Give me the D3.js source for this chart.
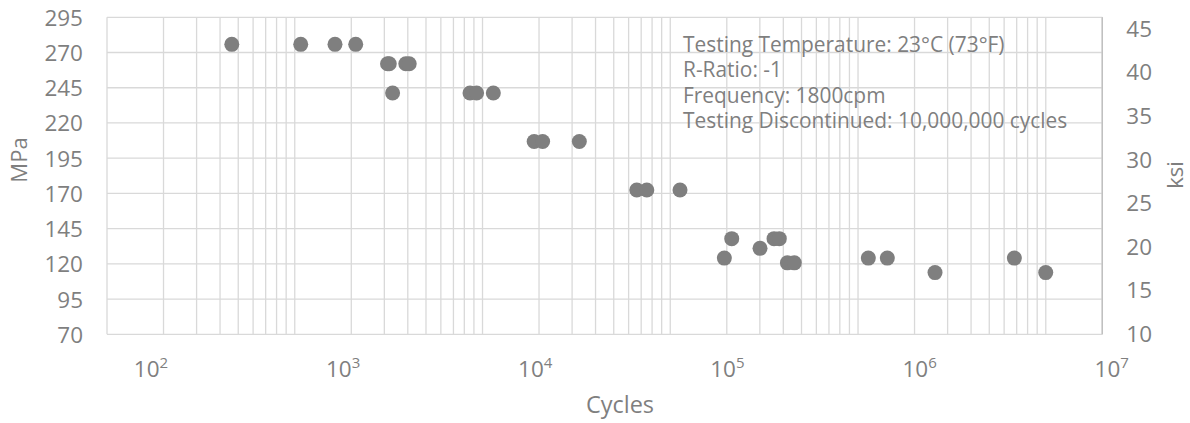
<!DOCTYPE html>
<html>
<head>
<meta charset="utf-8">
<script src="https://cdn.jsdelivr.net/npm/d3@7"></script>
<style>
  html, body { margin: 0; padding: 0; background: #fff; }
  svg { display: block; font-family: "Open Sans", "Noto Sans", sans-serif; }
</style>
</head>
<body>
<svg id="chart" width="1190" height="423"></svg>
<script>
// ---- data ----
const cycles = [231, 538, 819, 1056, 1560, 1593, 1952, 2035, 1660, 4290, 4650, 5710,
  9420, 10450, 16390, 33160, 37500, 56350, 97050, 106250, 150300, 178500, 190450,
  210300, 228900, 567350, 716150, 1285500, 3401000, 4996500];
const stressMPa = [275.8, 275.8, 275.8, 275.8, 262.0, 262.0, 262.0, 262.0, 241.3, 241.3, 241.3, 241.3,
  206.8, 206.8, 206.8, 172.4, 172.4, 172.4, 124.1, 137.9, 131.0, 137.9, 137.9,
  120.7, 120.7, 124.1, 124.1, 113.8, 124.1, 113.8];
const leftTicks = [70, 95, 120, 145, 170, 195, 220, 245, 270, 295];
const rightTicks = [10, 15, 20, 25, 30, 35, 40, 45];
const xExponents = [2, 3, 4, 5, 6, 7];
const notes = ["Testing Temperature: 23°C (73°F)", "R-Ratio: -1", "Frequency: 1800cpm",
  "Testing Discontinued: 10,000,000 cycles"];

// ---- layout ----
const L = 107, R = 1102.3, T = 17.3, B = 334.3;
const textColor = "#7f7f7f", gridColor = "#d9d9d9", dotColor = "#7f7f7f";

const svg = d3.select("#chart");
const x = d3.scaleLog().domain([50, 1e7]).range([L, R]);
const y = d3.scaleLinear().domain([70, 295]).range([B, T]);
const y2 = d3.scaleLinear().domain([10, 45]).range([333.3, 28.3]);
const xLab = d3.scaleLinear().domain([2, 7]).range([151, 1111.7]);

// vertical gridlines: log minor lines starting from axis minimum (50)
const vGrid = [];
for (let k = 0; k <= 5; k++) {
  for (let m = 1; m <= 9; m++) {
    const v = 50 * m * Math.pow(10, k);
    if (v <= 1e7) vGrid.push(v);
  }
}
vGrid.push(1e7);

const g = svg.append("g");
g.selectAll("line.v").data(vGrid).join("line")
  .attr("x1", d => x(d)).attr("x2", d => x(d))
  .attr("y1", T).attr("y2", B)
  .attr("stroke", gridColor).attr("stroke-width", 1.3);
g.selectAll("line.h").data(leftTicks).join("line")
  .attr("x1", L).attr("x2", R)
  .attr("y1", d => y(d)).attr("y2", d => y(d))
  .attr("stroke", gridColor).attr("stroke-width", 1.3);
// right axis line
g.append("line").attr("x1", R).attr("x2", R).attr("y1", T).attr("y2", B)
  .attr("stroke", "#bfbfbf").attr("stroke-width", 1.3);

// left tick labels
svg.append("g").selectAll("text").data(leftTicks).join("text")
  .attr("x", 83).attr("y", d => y(d))
  .attr("text-anchor", "end").attr("dominant-baseline", "central")
  .attr("fill", textColor).attr("font-size", 22.5)
  .text(d => d);

// right tick labels
svg.append("g").selectAll("text").data(rightTicks).join("text")
  .attr("x", 1152).attr("y", d => y2(d))
  .attr("text-anchor", "end").attr("dominant-baseline", "central")
  .attr("fill", textColor).attr("font-size", 22.5)
  .text(d => d);

// x tick labels 10^k
const xl = svg.append("g").selectAll("text").data(xExponents).join("text")
  .attr("x", d => xLab(d)).attr("y", 377)
  .attr("text-anchor", "middle")
  .attr("fill", textColor).attr("font-size", 22.5);
xl.append("tspan").text("10");
xl.append("tspan").attr("dy", -9).attr("font-size", 15).text(d => d);

// axis titles
svg.append("text").attr("transform", "translate(27,160) rotate(-90)")
  .attr("text-anchor", "middle").attr("fill", textColor).attr("font-size", 22)
  .text("MPa");
svg.append("text").attr("transform", "translate(1183,175) rotate(-90)")
  .attr("text-anchor", "middle").attr("fill", textColor).attr("font-size", 22)
  .text("ksi");
svg.append("text").attr("x", 620).attr("y", 413)
  .attr("text-anchor", "middle").attr("fill", textColor).attr("font-size", 23.5)
  .text("Cycles");

// points
svg.append("g").selectAll("circle").data(cycles.map((c, i) => [c, stressMPa[i]])).join("circle")
  .attr("cx", d => x(d[0])).attr("cy", d => y(d[1]))
  .attr("r", 7.5).attr("fill", dotColor);

// annotation
svg.append("g").selectAll("text").data(notes).join("text")
  .attr("x", 683).attr("y", (d, i) => 51.5 + i * 25.5)
  .attr("fill", textColor).attr("font-size", 20.9)
  .text(d => d);
</script>
</body>
</html>
